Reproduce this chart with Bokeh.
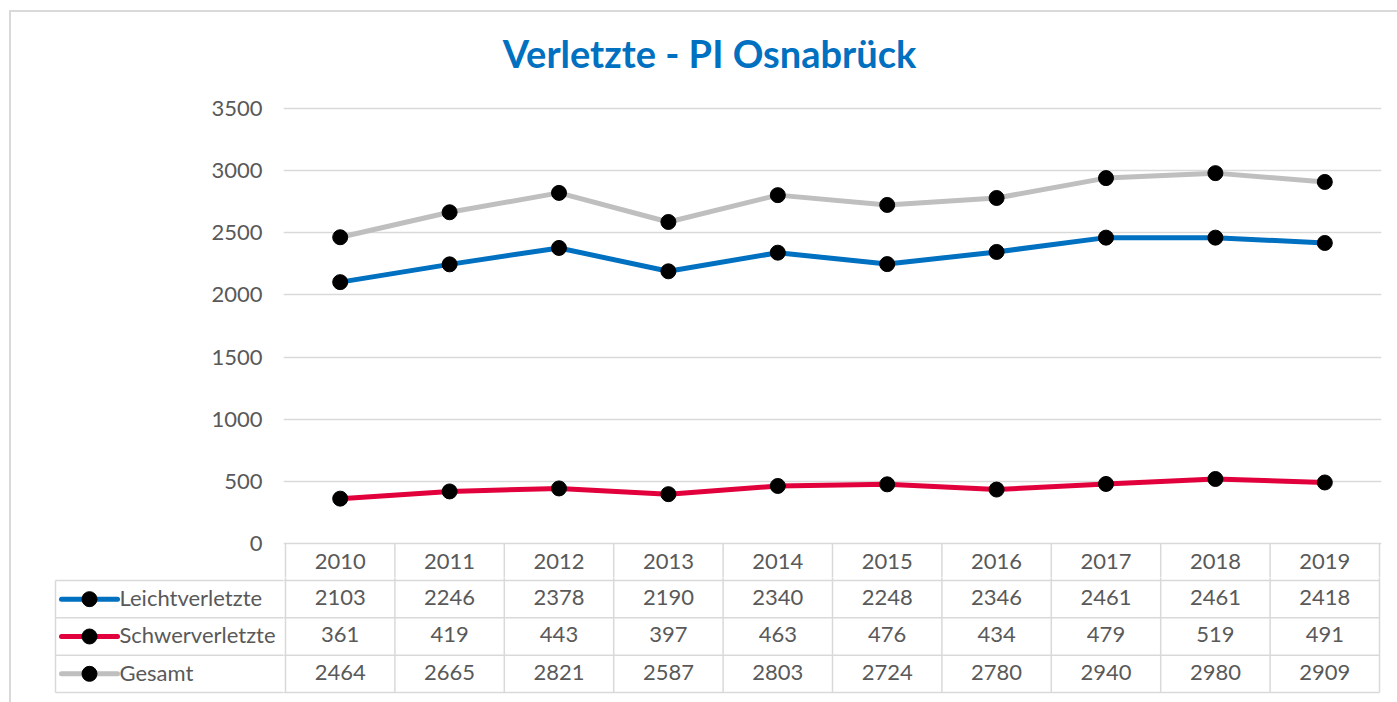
from bokeh.plotting import figure
from bokeh.layouts import column, row
from bokeh.models import Range1d, FixedTicker, Label
from bokeh.embed import file_html
from bokeh.resources import INLINE
from bokeh.core.properties import value

# ---------------- data ----------------
years = ["2010", "2011", "2012", "2013", "2014", "2015", "2016", "2017", "2018", "2019"]
leicht = [2103, 2246, 2378, 2190, 2340, 2248, 2346, 2461, 2461, 2418]
schwer = [361, 419, 443, 397, 463, 476, 434, 479, 519, 491]
gesamt = [2464, 2665, 2821, 2587, 2803, 2724, 2780, 2940, 2980, 2909]
series_names = ["Leichtverletzte", "Schwerverletzte", "Gesamt"]
y_ticks = [0, 500, 1000, 1500, 2000, 2500, 3000, 3500]
title_text = "Verletzte - PI Osnabrück"

# ---------------- style ----------------
colors = ["#0070c0", "#e2003c", "#bfbfbf"]
text_color = "#595959"
grid_color = "#d9d9d9"
FONT = "Lato"
FS = "22px"

# layout constants (page pixels); OX/OY = page position of the layout's content
OX, OY = 11, 12
PAGE_W, PAGE_H = 1397, 702
col_w = 109.4          # px per category
col0_left = 285        # page x of first column boundary
frame_left = 283
frame_right = 1381
frame_top = 22
split_y = 577          # boundary between chart and table figures
y0_px, y3500_px = 543, 108
upp = 3500 / (y0_px - y3500_px)   # data units per px


def px2x(px):
    return (px - col0_left) / col_w - 0.5


W = PAGE_W - OX
# ---------------- chart figure ----------------
p = figure(width=W, height=split_y - OY, output_backend="svg", toolbar_location=None,
           x_range=Range1d(px2x(frame_left), px2x(frame_right)),
           y_range=Range1d(-(split_y - y0_px) * upp, 3500 + (y3500_px - frame_top) * upp),
           min_border_left=frame_left - OX, min_border_right=PAGE_W - frame_right,
           min_border_top=frame_top - OY, min_border_bottom=0,
           x_axis_location=None)
p.outline_line_color = None
p.background_fill_color = "white"
p.border_fill_color = "white"
p.xgrid.visible = False
p.yaxis.ticker = FixedTicker(ticks=y_ticks)
p.ygrid.ticker = FixedTicker(ticks=y_ticks)
p.ygrid.grid_line_color = grid_color
p.ygrid.grid_line_width = 1.5
p.yaxis.axis_line_color = None
p.yaxis.major_tick_line_color = None
p.yaxis.major_tick_out = 0
p.yaxis.major_tick_in = 0
p.yaxis.minor_tick_line_color = None
p.yaxis.major_label_standoff = 21
p.yaxis.major_label_text_font = FONT
p.yaxis.major_label_text_font_size = FS
p.yaxis.major_label_text_color = text_color

xs = list(range(len(years)))
for vals, c in zip([gesamt, leicht, schwer], [colors[2], colors[0], colors[1]]):
    p.line(xs, vals, line_width=5, line_color=c)
for vals in [gesamt, leicht, schwer]:
    p.scatter(xs, vals, size=15, fill_color="black", line_color="black")

# year row of the data table
bounds = [i - 0.5 for i in range(len(years) + 1)]
p.segment(x0=bounds, y0=[0] * len(bounds), x1=bounds, y1=[-1000] * len(bounds),
          line_color=grid_color, line_width=1.5)
p.text(x=xs, y=[-(560.5 - y0_px) * upp] * len(xs), text=years,
       text_font=value(FONT), text_font_size=FS, text_color=text_color,
       text_align="center", text_baseline="middle")

p.add_layout(Label(x=px2x(709), y=3500 + (y3500_px - 52) * upp, text=title_text,
                   text_font=FONT, text_font_size="38px", text_font_style="bold",
                   text_color="#0070c0", text_align="center", text_baseline="middle"))

# ---------------- table figures ----------------
row_h = 37.33
row_top = 580
bot_h = PAGE_H - split_y
yr = (-(PAGE_H - row_top) / row_h, (row_top - split_y) / row_h)
n_rows = len(series_names)
row_y = [-(r + 0.5) for r in range(n_rows)]
text_y = [y + 1.5 / row_h for y in row_y]
hy = [-r for r in range(n_rows + 1)]

# left part: row headers with legend keys
tl = figure(width=frame_left - OX, height=bot_h, output_backend="svg", toolbar_location=None,
            x_range=Range1d(px2x(OX), px2x(frame_left)), y_range=Range1d(*yr),
            min_border_left=0, min_border_right=0, min_border_top=0, min_border_bottom=0,
            x_axis_location=None, y_axis_location=None)
# right part: values
tr = figure(width=PAGE_W - frame_left, height=bot_h, output_backend="svg", toolbar_location=None,
            x_range=Range1d(px2x(frame_left), px2x(frame_right)), y_range=Range1d(*yr),
            min_border_left=0, min_border_right=PAGE_W - frame_right, min_border_top=0,
            min_border_bottom=0, x_axis_location=None, y_axis_location=None)
for f in (tl, tr):
    f.outline_line_color = None
    f.grid.visible = False
    f.background_fill_color = "white"
    f.border_fill_color = "white"

left_x = px2x(55)
tl.segment(x0=[left_x] * len(hy), y0=hy, x1=[px2x(300)] * len(hy), y1=hy,
           line_color=grid_color, line_width=1.5)
tl.segment(x0=[left_x], y0=[-n_rows], x1=[left_x], y1=[0],
           line_color=grid_color, line_width=1.5)
tl.segment(x0=[px2x(61)] * n_rows, y0=row_y, x1=[px2x(117)] * n_rows, y1=row_y,
           line_color=colors, line_width=5, line_cap="round")
tl.scatter([px2x(89)] * n_rows, row_y, size=15, fill_color="black", line_color="black")
tl.text(x=[px2x(119)] * n_rows, y=text_y, text=series_names,
        text_font=value(FONT), text_font_size=FS, text_color=text_color,
        text_align="left", text_baseline="middle")

tr.segment(x0=[px2x(270)] * len(hy), y0=hy, x1=[9.5] * len(hy), y1=hy,
           line_color=grid_color, line_width=1.5)
tr.segment(x0=bounds, y0=[-n_rows] * len(bounds), x1=bounds, y1=[1] * len(bounds),
           line_color=grid_color, line_width=1.5)
cx, cy, ct = [], [], []
for r, vals in enumerate([leicht, schwer, gesamt]):
    for i, v in enumerate(vals):
        cx.append(i)
        cy.append(text_y[r])
        ct.append(str(v))
tr.text(x=cx, y=cy, text=ct, text_font=value(FONT), text_font_size=FS,
        text_color=text_color, text_align="center", text_baseline="middle")

layout = column(p, row(tl, tr, spacing=0), spacing=0,
                margin=(OY - 2, 0, 0, OX - 2),
                styles={"border-top": "2px solid #d9d9d9", "border-left": "2px solid #d9d9d9"})
open("out.html", "w").write(file_html(layout, INLINE))
